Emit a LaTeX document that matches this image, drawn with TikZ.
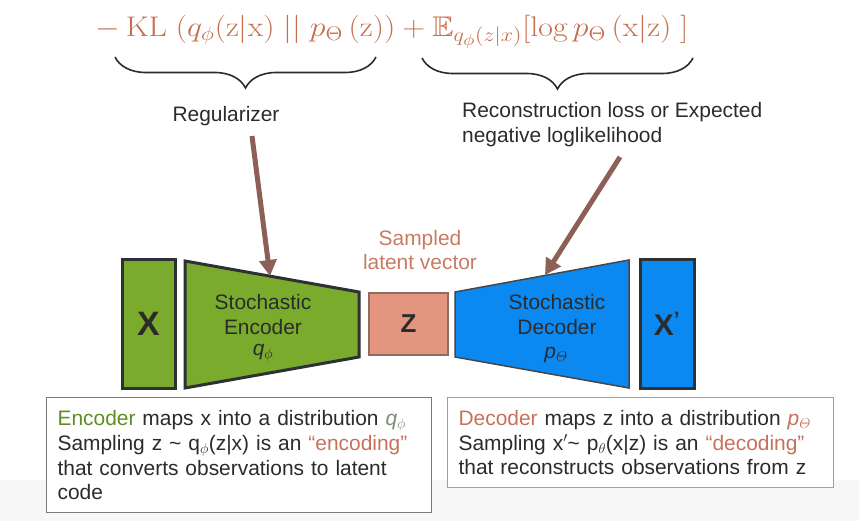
\documentclass[tikz,border=0pt]{standalone}
\usepackage{amssymb}
\usepackage{amsmath}
\usepackage{fontspec}
\setsansfont{Liberation Sans}
\usetikzlibrary{arrows.meta,decorations.pathreplacing}
\definecolor{encgreen}{HTML}{7AAB2C}
\definecolor{decblue}{HTML}{0B89F0}
\definecolor{zsalmon}{HTML}{E3957F}
\definecolor{zedge}{HTML}{8D6B61}
\definecolor{outdark}{HTML}{2D3134}
\definecolor{decedge}{HTML}{4A4545}
\definecolor{arrowbrown}{HTML}{8E5F57}
\definecolor{formula}{HTML}{C4704F}
\definecolor{latentred}{HTML}{C97B62}
\definecolor{txtdark}{HTML}{2B2B2B}
\definecolor{wordgreen}{HTML}{5E8F22}
\definecolor{wordred}{HTML}{C8705A}
\definecolor{qgray}{HTML}{7D8F70}
\definecolor{leftedge}{HTML}{7A7A72}
\definecolor{rightedge}{HTML}{8AA4B8}
\definecolor{bgfaint}{HTML}{F7F7F7}
\begin{document}
\begin{tikzpicture}[x=1bp,y=-1bp,
    every node/.style={inner sep=0pt,text=txtdark,font=\sffamily\fontsize{21}{25}\selectfont},
    shape edge/.style={draw=outdark,line width=3bp,line join=miter},
    hint arrow/.style={draw=arrowbrown,line width=5bp,-{Triangle[length=16bp,width=17bp]}},
    loss brace/.style={draw=txtdark,line width=1.6bp,decorate,decoration={brace,amplitude=31bp}},
    note box/.style={draw,line width=1.2bp,fill=white,anchor=north west,align=left,
      inner xsep=11bp,inner ysep=7bp}]
  \useasboundingbox (0,0) rectangle (859,521);
  \fill [bgfaint] (0,480) rectangle (859,521);

  \node [text=formula,font=\fontsize{17.28}{20}\selectfont] (elbo) at (392,32)
    {\scalebox{1.85}[1.65]{$-\,\mathrm{KL}\;(q_\phi(\mathrm{z}|\mathrm{x})\;||\;p_\Theta\,(\mathrm{z}))+\mathbb{E}_{q_\phi(z|x)}[\log p_\Theta\,(\mathrm{x}|\mathrm{z})\;]$}};
  \draw [loss brace] (376,57) -- (115,57);
  \draw [loss brace] (693,58) -- (422,58);

  \node (reg) at (226,116) {Regularizer};
  \node [anchor=west,align=left] (recon) at (462,124.5)
    {Reconstruction loss or Expected\\negative loglikelihood};
  \node [text=latentred,align=center] (latent) at (420,250) {Sampled\\latent vector};

  \node [shape edge,fill=encgreen,minimum width=53bp,minimum height=128bp,
    font=\sffamily\bfseries\fontsize{34}{34}\selectfont] (x) at (148.5,324) {X};
  \draw [shape edge,fill=encgreen] (185,261) coordinate (enc nw) -- (359,292) coordinate (enc ne)
    -- (359,357) coordinate (enc se) -- (185,388) coordinate (enc sw) -- cycle;
  \node (enc) at (263,302) {Stochastic};
  \node (encname) at (263,327) {Encoder};
  \node (encq) at (263,353) {\itshape q\textsubscript{$\phi$}};

  \node [draw=zedge,line width=2bp,fill=zsalmon,minimum width=79bp,minimum height=62bp,
    font=\sffamily\bfseries\fontsize{26}{26}\selectfont] (z) at (408.5,324) {Z};

  \draw [draw=decedge,line width=1.5bp,fill=decblue] (455,292) coordinate (dec nw)
    -- (629,260) coordinate (dec ne) -- (629,388) coordinate (dec se)
    -- (455,357) coordinate (dec sw) -- cycle;
  \node (dec) at (557,302) {Stochastic};
  \node (decname) at (557,327) {Decoder};
  \node (decp) at (556,355) {\itshape p\textsubscript{$\varTheta$}};

  \node [shape edge,fill=decblue,minimum width=54bp,minimum height=128bp,
    font=\sffamily\bfseries\fontsize{30}{30}\selectfont] (xhat) at (667,324) {X\textsuperscript{’}};

  \coordinate (reg tail) at (252,136);
  \coordinate (enc hit) at (270,276);
  \draw [hint arrow] (reg tail) -- (enc hit);
  \coordinate (recon tail) at (620,157);
  \coordinate (dec hit) at (545,275);
  \draw [hint arrow] (recon tail) -- (dec hit);

  \node [note box,draw=leftedge,text width=363bp,minimum height=115bp] (encnote) at (46,397)
    {\textcolor{wordgreen}{Encoder} maps x into a distribution \textcolor{qgray}{\itshape q\textsubscript{$\phi$}}\\
     Sampling z \textasciitilde\ q\textsubscript{$\phi$}(z|x) is an \textcolor{wordred}{“encoding”}\\
     that converts observations to latent\\
     code};
  \node [note box,draw=rightedge,text width=364bp,minimum height=90bp] (decnote) at (447,397)
    {\textcolor{wordred}{Decoder} maps z into a distribution \textcolor{wordred}{\itshape p\textsubscript{$\varTheta$}}\\
     Sampling x\textsuperscript{$\prime$}\textasciitilde\ p\textsubscript{$\theta$}(x|z) is an \textcolor{wordred}{“decoding”}\\
     that reconstructs observations from z};
\end{tikzpicture}
\end{document}
